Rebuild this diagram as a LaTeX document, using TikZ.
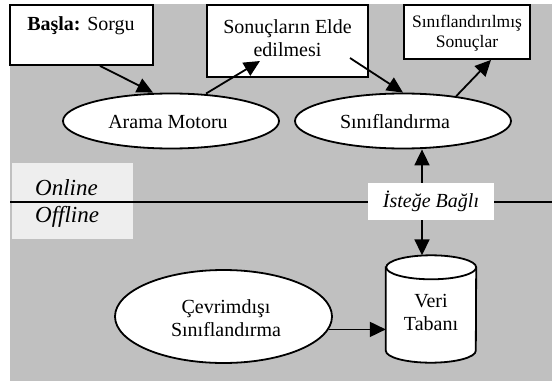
\documentclass[tikz,border=0pt]{standalone}
\usepackage{fontspec}
\setmainfont{Liberation Serif}
\usetikzlibrary{arrows.meta,shapes.geometric,calc}
\definecolor{bggray}{HTML}{C0C0C0}
\definecolor{offgray}{HTML}{EEEEEE}
\tikzset{
  box/.style={draw, fill=white, line width=1.8pt, inner sep=0pt, rectangle},
  ell/.style={ellipse, draw, fill=white, line width=1.8pt, inner sep=0pt},
  arr/.style={-{Triangle[length=16pt,width=15pt]}, line width=1.8pt},
  txt/.style={inner sep=0pt, font=\fontsize{20}{23}\selectfont, align=center},
  smalltxt/.style={inner sep=0pt, font=\fontsize{17.5}{20}\selectfont, align=center},
  ontxt/.style={inner sep=0pt, font=\fontsize{23}{26}\selectfont\itshape, anchor=west},
}
\begin{document}
\begin{tikzpicture}[x=1pt,y=-1pt]
\useasboundingbox (0,0) rectangle (552,383);
\fill[bggray] (10,4) rectangle (552,381);
% online / offline
\node[fill=offgray, minimum width=121pt, minimum height=76pt, inner sep=0pt] (olbox) at (72.5,201) {};
\node[ontxt] (online) at (35,188) {Online};
\node[ontxt] (offline) at (35,217) {Offline};
\coordinate (lineL) at (10,202);
\coordinate (lineR) at (552,202);
\draw[line width=1.8pt] (lineL) -- (lineR);
\node[fill=white, minimum width=126pt, minimum height=37pt, inner sep=0pt, font=\fontsize{20}{23}\selectfont\itshape] (opt) at (431,201.5) {İsteğe Bağlı};
% top boxes
\node[box, minimum width=143pt, minimum height=60pt] (basla) at (81.5,35) {};
\node[txt] (baslat) at (81,26) {\textbf{Başla:} Sorgu};
\node[box, minimum width=161pt, minimum height=72pt] (sonuc) at (287.5,41) {};
\node[txt] (sonuct) at (287.5,38) {Sonuçların Elde\\edilmesi};
\node[box, minimum width=126pt, minimum height=54pt] (sinsonuc) at (467,32) {};
\node[smalltxt] (sinsonuct) at (467,33) {Sınıflandırılmış\\Sonuçlar};
% ellipses
\node[ell, minimum width=216pt, minimum height=55pt] (arama) at (171,121) {};
\node[txt] (aramat) at (168,122) {Arama Motoru};
\node[ell, minimum width=216pt, minimum height=55pt] (sinif) at (403,121) {};
\node[txt] (sinift) at (395,122) {Sınıflandırma};
\node[ell, minimum width=217pt, minimum height=93pt] (cevrim) at (223.5,316.5) {};
\node[txt] (cevrimt) at (226,318) {Çevrimdışı\\Sınıflandırma};
% database cylinder
\node[minimum width=90pt, minimum height=107pt, inner sep=0pt] (db) at (431,309) {};
\path (db.north west) ++(0,12) coordinate (cTL);
\path (db.south west) ++(0,-12) coordinate (cBL);
\path (db.south east) ++(0,-12) coordinate (cBR);
\path (db.north east) ++(0,12) coordinate (cTR);
\filldraw[fill=white, line width=1.8pt] (cTL) -- (cBL)
  arc[start angle=180, end angle=360, x radius=45pt, y radius=12pt] -- (cTR)
  arc[start angle=0, end angle=180, x radius=45pt, y radius=12pt] -- cycle;
\draw[line width=1.8pt] (cTR) arc[start angle=0, end angle=-180, x radius=45pt, y radius=12pt];
\node[txt] (dbt) at (431,312) {Veri\\Tabanı};
% arrows
\draw[arr] ([xshift=18.5pt]basla.south) -- ([xshift=-18pt]arama.north);
\draw[arr] ([xshift=35pt,yshift=-1pt]arama.north) -- ([xshift=-27.5pt,yshift=-20pt]sonuc.center);
\draw[arr] ([xshift=62.5pt,yshift=-17pt]sonuc.center) -- (sinif.north);
\draw[arr] (sinif.25) -- ([xshift=24pt]sinsonuc.south);
\draw[arr] ([xshift=-9pt]opt.north) -- ([xshift=-9pt]opt.north |- sinif.south);
\draw[arr] ([xshift=-9pt]opt.south) -- ([xshift=-9pt]opt.south |- db.north);
\draw[arr] (cevrim.-7) -- (cevrim.-7 -| db.west);
\end{tikzpicture}
\end{document}
